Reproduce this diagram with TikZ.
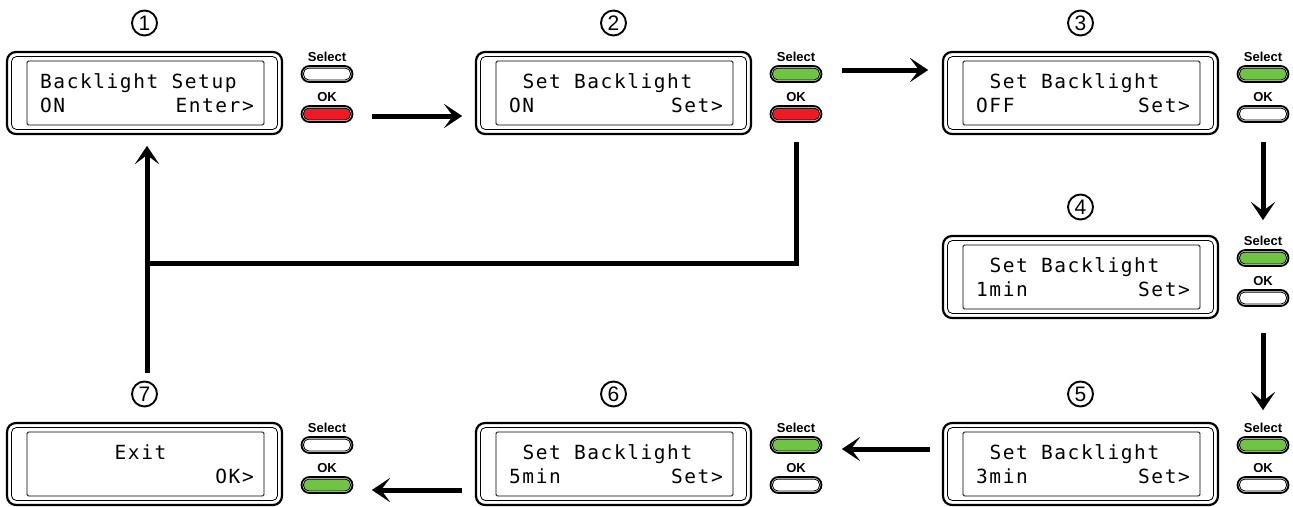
\documentclass[tikz,border=0pt]{standalone}
\usepackage{fontspec}
\setmainfont{Liberation Sans}
\newfontfamily\lcdfont[LetterSpace=8]{DejaVu Sans Mono}
\usetikzlibrary{arrows.meta,calc}
\definecolor{btngreen}{RGB}{112,196,68}
\definecolor{btnred}{RGB}{237,28,36}
\tikzset{
  panel/.style={draw,line width=2.2pt,rounded corners=9pt,minimum width=275pt,minimum height=82pt,inner sep=0pt,outer sep=0pt,anchor=north west},
  thinl/.style={draw,line width=0.8pt},
  lcd/.style={font=\lcdfont\fontsize{19.5}{19.5}\selectfont,inner sep=0pt},
  numcirc/.style={circle,draw,line width=1.9pt,minimum size=25pt,inner sep=0pt,font=\fontsize{21}{21}\selectfont},
  btnlabel/.style={inner sep=0pt,font=\fontsize{13}{13}\selectfont\bfseries},
  btn/.style={draw,line width=1.8pt,rounded corners=8pt,minimum width=51pt,minimum height=16pt,inner sep=0pt,fill=white},
  arr/.style={line width=5pt,-{Stealth[length=18pt,width=24pt,inset=9pt,line width=0.1pt]}},
  retline/.style={line width=5pt,line join=miter}
}
\newcommand\lcdpanel[9]{%
  \node[panel] (p#1) at (#2,#3) {};
  \draw[thinl,rounded corners=5pt] ($(p#1.north west)+(4.5,4.5)$) rectangle ($(p#1.south east)+(-4.5,-4.5)$);
  \draw[thinl,rounded corners=1.5pt] ($(p#1.north west)+(20,9)$) rectangle ($(p#1.south east)+(-18,-9)$);
  \node[numcirc] (n#1) at ($(p#1.north)+(0,-29)$) {#1};
  \node[lcd,anchor=base west] (ta#1) at ($(p#1.north west)+({33+#4*13.3},36)$) {#5};
  \node[lcd,anchor=base west] (tb#1) at ($(p#1.north west)+(33,60)$) {#6};
  \node[lcd,anchor=base east] (tc#1) at ($(p#1.north west)+(247,60)$) {#7};
  \node[btnlabel] (sl#1) at ($(p#1.north west)+(320,5)$) {Select};
  \node[btn] (sb#1) at ($(p#1.north west)+(320,22)$) {};
  \draw[thinl,fill=#8,rounded corners=5pt] ($(sb#1.north west)+(3,3)$) rectangle ($(sb#1.south east)+(-3,-3)$);
  \node[btnlabel] (ol#1) at ($(p#1.north west)+(320,45)$) {OK};
  \node[btn] (ob#1) at ($(p#1.north west)+(320,62)$) {};
  \draw[thinl,fill=#9,rounded corners=5pt] ($(ob#1.north west)+(3,3)$) rectangle ($(ob#1.south east)+(-3,-3)$);
}
\begin{document}
\begin{tikzpicture}[x=1pt,y=-1pt]
\useasboundingbox (0,0) rectangle (1293,506);
\lcdpanel{1}{7}{52}{0}{Backlight Setup}{ON}{Enter>}{white}{btnred}
\lcdpanel{2}{476}{52}{1}{Set Backlight}{ON}{Set>}{btngreen}{btnred}
\lcdpanel{3}{943}{52}{1}{Set Backlight}{OFF}{Set>}{btngreen}{white}
\lcdpanel{4}{943}{236}{1}{Set Backlight}{1min}{Set>}{btngreen}{white}
\lcdpanel{5}{943}{423}{1}{Set Backlight}{3min}{Set>}{btngreen}{white}
\lcdpanel{6}{476}{423}{1}{Set Backlight}{5min}{Set>}{btngreen}{white}
\lcdpanel{7}{7}{423}{5.6}{Exit}{}{OK>}{white}{btngreen}
% arrow coordinates
\coordinate (a12s) at (372,116); \coordinate (a12e) at (462,116);
\coordinate (a23s) at (842,70);  \coordinate (a23e) at (928,70);
\coordinate (a34s) at (1263,142); \coordinate (a34e) at (1263,220);
\coordinate (a45s) at (1263,333); \coordinate (a45e) at (1263,410);
\coordinate (a56s) at (930,449); \coordinate (a56e) at (842,449);
\coordinate (a67s) at (462,490); \coordinate (a67e) at (372,490);
\coordinate (r1) at (796,142); \coordinate (r2) at (796,263); \coordinate (r3) at (147,263);
\coordinate (u1) at (147,373); \coordinate (u2) at (147,146);
\draw[arr] (a12s) -- (a12e);
\draw[arr] (a23s) -- (a23e);
\draw[arr] (a34s) -- (a34e);
\draw[arr] (a45s) -- (a45e);
\draw[arr] (a56s) -- (a56e);
\draw[arr] (a67s) -- (a67e);
\draw[retline] (r1) -- (r2) -- (r3);
\draw[arr] (u1) -- (u2);
\end{tikzpicture}
\end{document}
